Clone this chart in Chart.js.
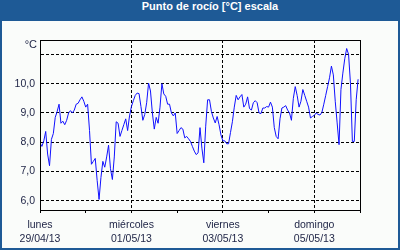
<!DOCTYPE html>
<html>
<head>
<meta charset="utf-8">
<script src="https://cdn.jsdelivr.net/npm/chart.js@4/dist/chart.umd.min.js"></script>
<style>
  html, body { margin: 0; padding: 0; background: #1e5a96; }
  #frame { position: absolute; left: 0; top: 0; width: 400px; height: 250px; background: #1e5a96; }
  #title { position: absolute; left: 20px; top: 0; width: 380px; height: 21px; line-height: 21px; text-align: center;
           color: #ffffff; font: bold 11px 'Liberation Sans', Arial, sans-serif; }
  #plot { position: absolute; left: 2px; top: 21px; width: 396px; height: 227px; background: #fafcfa; }
</style>
</head>
<body>
<div id="frame">
  <div id="title">Punto de rocío [°C] escala</div>
  <div id="plot"><canvas id="c" width="396" height="227"></canvas></div>
</div>
<script>
// Hourly dew point readings (°C), starting Monday 29/04/13 00:00
const dewPoint = [
  7.98, 7.86, 8.05, 8.37, 7.6, 7.2, 8.1, 8.3, 8.85, 9.05, 9.3, 8.65,
  8.72, 8.6, 8.75, 9.0, 9.08, 9.0, 9.1, 9.3, 9.33, 9.45, 9.55, 9.4,
  9.2, 9.3, 8.4, 7.25, 7.35, 7.45, 6.7, 6.05, 6.8, 7.35, 7.15, 7.5,
  7.9, 7.1, 6.73, 7.5, 8.7, 8.65, 8.2, 8.4, 8.6, 8.8, 8.4, 8.9,
  9.22, 9.42, 9.6, 9.68, 9.66, 9.22, 8.75, 8.95, 9.35, 10.02, 9.75, 9.0,
  8.45, 8.85, 8.65, 9.2, 10.0, 9.65, 9.57, 9.3, 9.3, 9.0, 8.9, 9.0,
  8.3, 8.4, 8.5, 8.45, 8.15, 8.2, 8.12, 8.03, 7.86, 7.7, 7.58, 7.64,
  8.5, 7.8, 7.3, 8.55, 9.45, 9.45, 9.05, 8.83, 8.66, 8.88, 8.6, 8.25,
  8.05, 8.05, 7.95, 7.95, 8.33, 8.7, 9.2, 9.6, 9.45, 9.55, 9.63, 9.2,
  9.3, 9.55, 9.15, 9.1, 9.35, 9.42, 9.35, 9.0, 8.98, 9.17, 9.17, 9.22,
  9.2, 9.37, 9.2, 8.5, 8.2, 8.12, 8.8, 9.17, 9.2, 9.25, 9.1, 9.0,
  8.75, 9.5, 9.9, 9.6, 9.2, 9.4, 9.8, 9.6, 9.4, 9.2, 8.83, 8.88,
  8.92, 9.0, 8.95, 8.93, 9.02, 9.3, 9.6, 9.9, 10.2, 10.6, 10.3, 9.4,
  8.66, 7.92, 9.8, 10.36, 10.85, 11.2, 11.0, 10.0, 8.03, 8.03, 9.45, 10.15
];
const dayTickHours = [0, 24, 48, 72, 96, 120, 144, 168];
const labelHours = [0, 48, 96, 144];
const dayNames = ['lunes', 'miércoles', 'viernes', 'domingo'];
const dateLabels = ['29/04/13', '01/05/13', '03/05/13', '05/05/13'];
const yTicks = [6, 7, 8, 9, 10, 11];
const yLabels = ['6,0', '7,0', '8,0', '9,0', '10,0', ''];
const unitLabel = '°C';
const yMin = 5.69, yMax = 11.49, xMin = 0, xMax = 168;

const points = dewPoint.map((v, i) => ({ x: i, y: v }));
const textColor = '#1c2244';
const fontFam = "'Liberation Sans', Arial, sans-serif";
const DASH = [3, 2];

const framePlugin = {
  id: 'frameBox',
  afterDraw(chart) {
    const { ctx, chartArea: a } = chart;
    ctx.save();
    ctx.strokeStyle = '#000';
    ctx.lineWidth = 1;
    ctx.setLineDash([]);
    ctx.strokeRect(Math.round(a.left) + 0.5, Math.round(a.top) + 0.5, Math.round(a.right - a.left), Math.round(a.bottom - a.top));
    ctx.fillStyle = textColor;
    ctx.font = "11px " + fontFam;
    ctx.textAlign = 'right';
    ctx.textBaseline = 'middle';
    ctx.fillText(unitLabel, a.left - 3, a.top + 5);
    ctx.restore();
  }
};

new Chart(document.getElementById('c'), {
  type: 'line',
  data: {
    datasets: [{
      data: points,
      borderColor: '#1010ff',
      borderWidth: 1,
      pointRadius: 0,
      tension: 0,
      fill: false
    }]
  },
  options: {
    responsive: false,
    animation: false,
    events: [],
    layout: { padding: { left: 0, right: 38, top: 19, bottom: 0 } },
    plugins: { legend: { display: false }, tooltip: { enabled: false }, title: { display: false } },
    scales: {
      x: {
        type: 'linear',
        min: xMin, max: xMax,
        afterBuildTicks: s => { s.ticks = dayTickHours.map(v => ({ value: v })); },
        afterFit: s => { s.height = 38; },
        border: { display: true, color: '#000', width: 1, dash: DASH },
        grid: {
          drawTicks: true,
          tickLength: 3,
          tickColor: '#000',
          tickBorderDash: [],
          borderDash: DASH,
          color: c => (c.tick && labelHours.includes(c.tick.value) && c.tick.value !== 0) ? '#000' : 'rgba(0,0,0,0)',
          lineWidth: 1
        },
        ticks: {
          autoSkip: false,
          maxRotation: 0,
          padding: 5,
          color: textColor,
          font: { family: fontFam, size: 10.5, lineHeight: 1.35 },
          callback: v => {
            const i = labelHours.indexOf(v);
            return i >= 0 ? [dayNames[i], dateLabels[i]] : '';
          }
        }
      },
      y: {
        type: 'linear',
        min: yMin, max: yMax,
        afterBuildTicks: s => { s.ticks = yTicks.map(v => ({ value: v })); },
        afterFit: s => { s.width = 38; },
        border: { display: true, color: '#000', width: 1, dash: DASH },
        grid: { drawTicks: false, color: '#000', lineWidth: 1, borderDash: DASH },
        ticks: {
          padding: 5,
          color: textColor,
          font: { family: fontFam, size: 10.5 },
          callback: v => { const i = yTicks.indexOf(v); return i >= 0 ? yLabels[i] : ''; }
        }
      }
    }
  },
  plugins: [framePlugin]
});
</script>
</body>
</html>
